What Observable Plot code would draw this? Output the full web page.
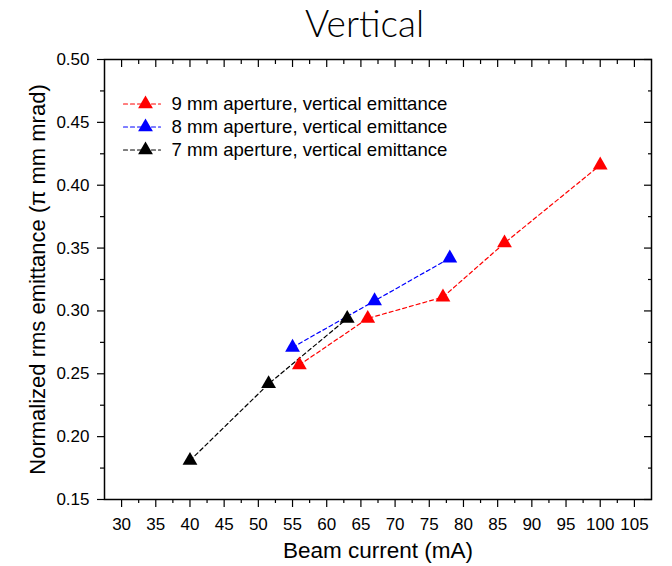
<!DOCTYPE html>
<html><head><meta charset="utf-8">
<script src="https://cdn.jsdelivr.net/npm/d3@7"></script>
<script src="https://cdn.jsdelivr.net/npm/@observablehq/plot@0.6"></script>
<style>
body{margin:0;background:#fff;}
</style></head><body>
<div id="chart"></div>
<script>
const title = "Vertical";
const series = ["9 mm aperture, vertical emittance", "8 mm aperture, vertical emittance", "7 mm aperture, vertical emittance"];
const colors = ["#ff0000", "#0000ff", "#000000"];
const current9 = [56, 66, 77, 86, 100];
const emit9 = [0.257, 0.294, 0.311, 0.354, 0.416];
const current8 = [55, 67, 78];
const emit8 = [0.271, 0.308, 0.342];
const current7 = [40, 51.5, 63];
const emit7 = [0.181, 0.242, 0.294];
const xTicks = [30, 35, 40, 45, 50, 55, 60, 65, 70, 75, 80, 85, 90, 95, 100, 105];
const xMinor = [32.5, 37.5, 42.5, 47.5, 52.5, 57.5, 62.5, 67.5, 72.5, 77.5, 82.5, 87.5, 92.5, 97.5, 102.5];
const yTicks = [0.15, 0.20, 0.25, 0.30, 0.35, 0.40, 0.45, 0.50];
const yMinor = [0.175, 0.225, 0.275, 0.325, 0.375, 0.425, 0.475];
const xTitle = "Beam current (mA)";
const yTitle = "Normalized rms emittance (\u03c0 mm mrad)";

const rows = [];
[[current9, emit9], [current8, emit8], [current7, emit7]].forEach(([xs, ys], i) => {
  xs.forEach((x, j) => rows.push({series: series[i], current: x, emittance: ys[j]}));
});

const lineShape = {draw(ctx, l) { ctx.moveTo(0, 0); ctx.lineTo(0, -l); }};
const blank = () => "";

const legendMarks = series.flatMap((s, i) => [
  Plot.vector([s], {frameAnchor: "top-left", dx: 19, dy: 44.5 + i * 23, length: 37, rotate: 90, anchor: "start",
    shape: lineShape, stroke: colors[i], strokeWidth: 1.2, strokeDasharray: "4,3"}),
  Plot.dot([s], {frameAnchor: "top-left", dx: 41, dy: 44.5 + i * 23, symbol: "triangle", r: 5.5, fill: colors[i]}),
  Plot.text([s], {frameAnchor: "top-left", dx: 67, dy: 44.5 + i * 23, text: d => d, textAnchor: "start",
    lineAnchor: "middle", fontSize: 18.6, fill: "#000"})
]);

const chart = Plot.plot({
  width: 672,
  height: 566,
  marginTop: 59,
  marginBottom: 67,
  marginLeft: 104,
  marginRight: 21,
  style: {fontFamily: "'Liberation Sans', Arial, sans-serif", color: "#000", background: "#fff", overflow: "visible"},
  x: {domain: [27.5, 107.5]},
  y: {domain: [0.15, 0.50]},
  color: {domain: series, range: colors},
  marks: [
    Plot.axisX(xTicks, {anchor: "bottom", tickSize: 8, tickPadding: 10, fontSize: 17, label: null, strokeWidth: 1.2}),
    Plot.axisX(xMinor, {anchor: "bottom", tickSize: 4, tickFormat: blank, label: null, strokeWidth: 1.2}),
    Plot.axisX(xTicks, {anchor: "top", tickSize: -7, tickFormat: blank, label: null, strokeWidth: 1.2}),
    Plot.axisX(xMinor, {anchor: "top", tickSize: -4, tickFormat: blank, label: null, strokeWidth: 1.2}),
    Plot.axisY(yTicks, {anchor: "left", tickSize: 7, tickPadding: 8, fontSize: 17, tickFormat: d3.format(".2f"), label: null, strokeWidth: 1.2}),
    Plot.axisY(yMinor, {anchor: "left", tickSize: 4, tickFormat: blank, label: null, strokeWidth: 1.2}),
    Plot.axisY(yTicks, {anchor: "right", tickSize: -8, tickFormat: blank, label: null, strokeWidth: 1.2}),
    Plot.axisY(yMinor, {anchor: "right", tickSize: -4, tickFormat: blank, label: null, strokeWidth: 1.2}),
    Plot.frame({strokeWidth: 1.5}),
    Plot.text([title], {frameAnchor: "top", dx: -13.5, dy: -22.3, lineAnchor: "bottom", textAnchor: "middle", text: d => d,
      fontSize: 37, fontFamily: "Lato, sans-serif", fontWeight: 300, fill: "#000"}),
    Plot.text([xTitle], {frameAnchor: "bottom", dy: 58, lineAnchor: "bottom", textAnchor: "middle", text: d => d, fontSize: 22.5, fill: "#000"}),
    Plot.text([yTitle], {frameAnchor: "left", dx: -60, rotate: -90, lineAnchor: "bottom", textAnchor: "middle", text: d => d, fontSize: 22, fill: "#000"}),
    Plot.line(rows, {x: "current", y: "emittance", z: "series", stroke: "series", strokeWidth: 1.2, strokeDasharray: "4,3"}),
    Plot.dot(rows, {x: "current", y: "emittance", fill: "series", symbol: "triangle", r: 5.5}),
    ...legendMarks
  ]
});
document.getElementById("chart").appendChild(chart);
</script>
</body></html>
